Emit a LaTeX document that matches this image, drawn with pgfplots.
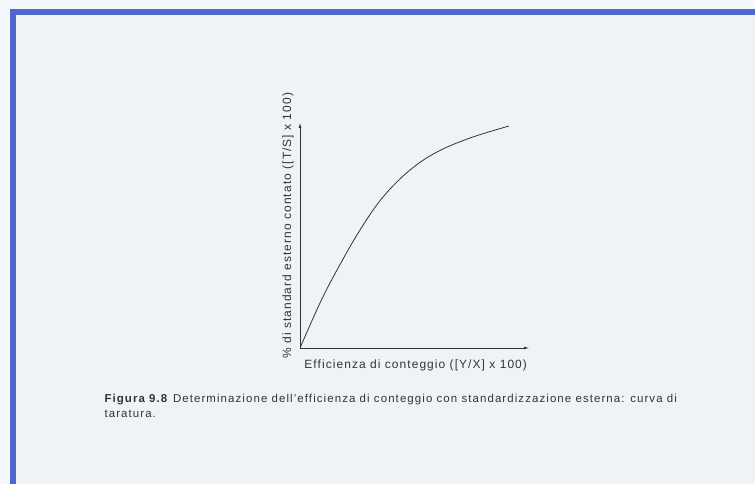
\documentclass[border=0pt]{standalone}
\usepackage{fontspec}
\setmainfont{Liberation Sans}
\usepackage{pgfplots}
\pgfplotsset{compat=1.18}
\usetikzlibrary{arrows.meta}
\definecolor{frameblue}{HTML}{4F67CE}
\definecolor{outerbg}{HTML}{F5F9FE}
\definecolor{innerbg}{HTML}{F0F3F6}
\definecolor{ink}{HTML}{333333}

\begin{document}
\begin{tikzpicture}
\path[use as bounding box] (0,0) rectangle (755bp,484bp);
\fill[outerbg] (0,0) rectangle (755bp,484bp);
\fill[frameblue] (10bp,0) rectangle (755bp,475bp);
\fill[innerbg] (16bp,0) rectangle (755bp,469bp);
\begin{axis}[
  at={(300bp,136bp)}, anchor=south west,
  scale only axis, width=229bp, height=225bp,
  xmin=0, xmax=229, ymin=0, ymax=225,
  axis lines=left,
  axis line style={ink, line width=0.7bp, -{Latex[length=5bp,width=3bp]}},
  xtick=\empty, ytick=\empty,
  font={\fontsize{12}{14}\selectfont\addfontfeature{LetterSpace=9}},
  xlabel={Efficienza di conteggio ([Y/X] x 100)},
  ylabel={\% di standard esterno contato ([T/S] x 100)},
  x label style={at={(axis description cs:0.004,-0.093)}, anchor=base west, text=ink},
  y label style={at={(axis description cs:-0.0524,-0.0622)}, anchor=west, text=ink},
]
\addplot[ink, line width=0.8bp, smooth, tension=0.6] coordinates {
  (0,0) (20,45) (37,78) (60,118) (83,151) (110,178) (137,196) (170,210) (209,222)
};
\end{axis}
\node[anchor=base west, text=ink, font={\fontsize{11.5}{14}\selectfont\addfontfeature{LetterSpace=9.5}}]
  at (101bp,81bp) {\textbf{Figura 9.8}\hspace{0.4em}Determinazione dell'efficienza di conteggio con standardizzazione esterna: curva di};
\node[anchor=base west, text=ink, font={\fontsize{11.5}{14}\selectfont\addfontfeature{LetterSpace=9.5}}]
  at (101bp,66bp) {taratura.};
\end{tikzpicture}
\end{document}
